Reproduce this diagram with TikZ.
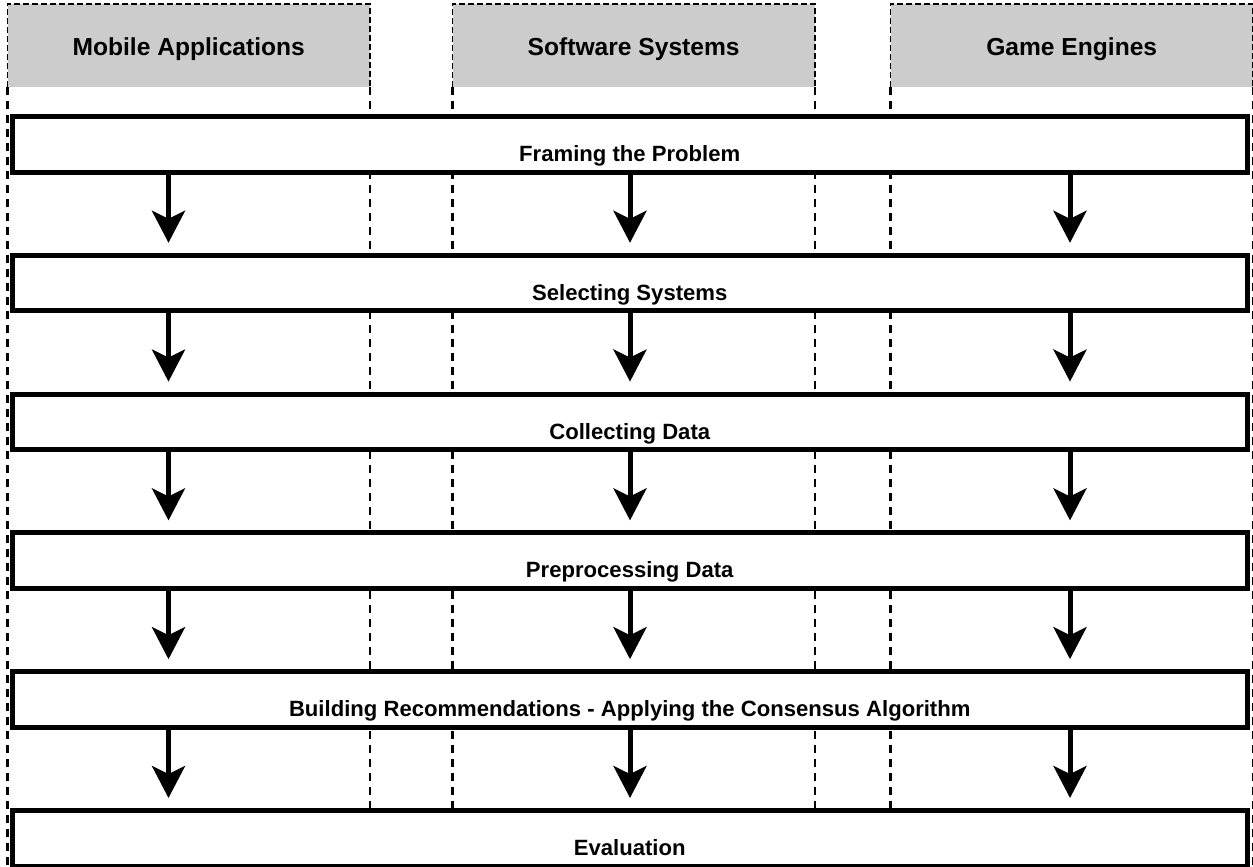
\documentclass[tikz,border=0pt]{standalone}
\usepackage{fontspec}
\setmainfont{Liberation Sans}
\usetikzlibrary{arrows.meta}
\definecolor{hdrgray}{HTML}{CCCCCC}
\begin{document}
\begin{tikzpicture}[x=1pt,y=-1pt,
  lanehead/.style={fill=hdrgray, minimum width=362pt, text height=51pt, text depth=32pt,
    inner sep=0pt, anchor=north west, font=\fontsize{24.6}{28}\selectfont\bfseries},
  headline/.style={draw=black, line width=1.4pt, dash pattern=on 6pt off 3pt},
  laneline/.style={draw=black, line width=2.6pt, dash pattern=on 8pt off 6pt},
  stepbox/.style={draw=black, fill=white, line width=5pt, minimum width=1234.5pt,
    text height=45pt, text depth=10.5pt, inner sep=0pt, anchor=north,
    font=\fontsize{22.1}{25}\selectfont\bfseries},
  flow/.style={line width=5pt, -{Stealth[length=32pt,width=33pt,inset=8pt]}, shorten >=10pt}
]
\useasboundingbox (0,0) rectangle (1253,867);
\coordinate (bot) at (0,867);
\coordinate (a1) at (168.5,0);
\coordinate (a2) at (630,0);
\coordinate (a3) at (1070,0);

% lanes
\node[lanehead] (h1) at (7.5,4) {Mobile Applications};
\node[lanehead] (h2) at (452.5,4) {Software Systems};
\node[lanehead] (h3) at (890.5,4) {Game Engines};
\foreach \h in {h1,h2,h3}{
  \draw[headline] (\h.south west) -- (\h.north west) -- (\h.north east) -- (\h.south east);
  \draw[laneline] (\h.south west) -- (\h.south west |- bot);
  \draw[laneline] (\h.south east) -- (\h.south east |- bot);
}

% steps
\node[stepbox] (s1) at (629.75,114) {Framing the Problem};
\node[stepbox] (s2) at (629.75,252.8) {Selecting Systems};
\node[stepbox] (s3) at (629.75,391.6) {Collecting Data};
\node[stepbox] (s4) at (629.75,530.4) {Preprocessing Data};
\node[stepbox] (s5) at (629.75,669.2) {Building Recommendations - Applying the Consensus Algorithm};
\node[stepbox] (s6) at (629.75,808) {Evaluation};

% connectors
\foreach \s/\t in {s1/s2,s2/s3,s3/s4,s4/s5,s5/s6}{
  \foreach \a in {a1,a2,a3}{
    \draw[flow] (\s.south -| \a) -- (\t.north -| \a);
  }
}
\end{tikzpicture}
\end{document}
